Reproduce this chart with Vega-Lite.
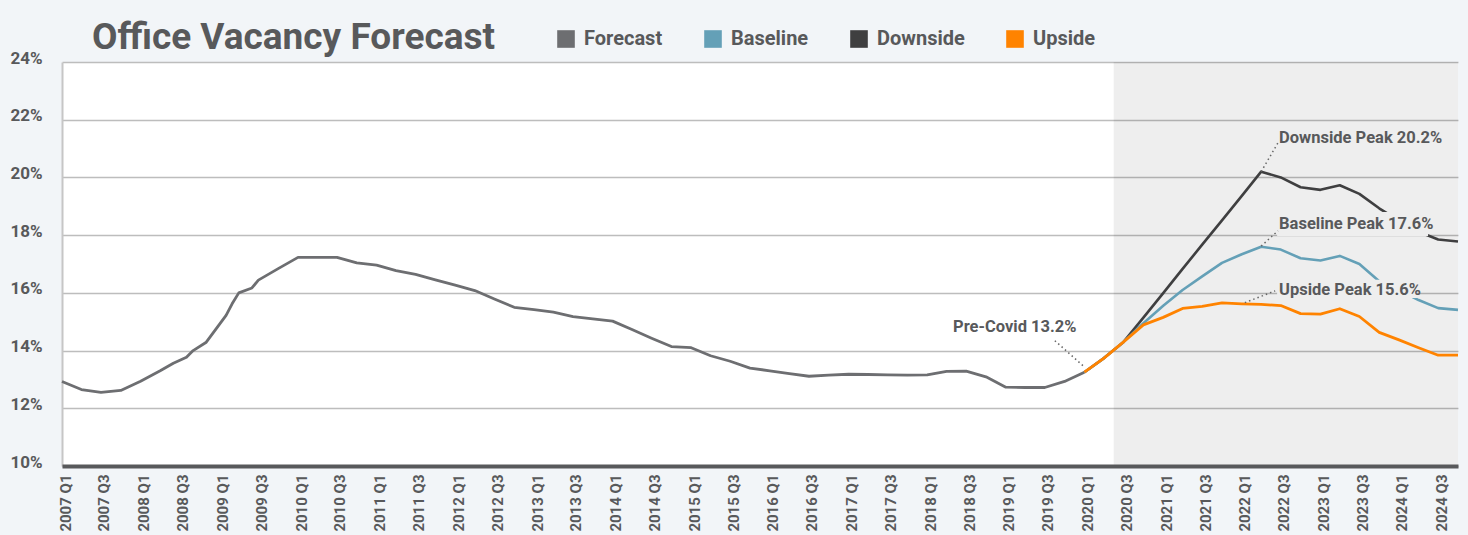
{
  "$schema": "https://vega.github.io/schema/vega-lite/v6.json",
  "autosize": {"type": "none"},
  "width": 1396,
  "height": 404,
  "padding": {"left": 62, "top": 62, "right": 10, "bottom": 69},
  "background": "#f2f5f8",
  "title": {
    "text": "Office Vacancy Forecast",
    "anchor": "start",
    "frame": "group",
    "dx": 30,
    "dy": 44,
    "offset": 16,
    "fontSize": 37,
    "fontWeight": "bold",
    "font": "Roboto, sans-serif",
    "color": "#58595b"
  },
  "config": {
    "font": "Roboto, sans-serif",
    "view": {"fill": "#ffffff", "stroke": null}
  },
  "datasets": {
    "series": [
      {"date": "2007-01-01", "series": "Forecast", "value": 12.93},
      {"date": "2007-04-01", "series": "Forecast", "value": 12.65},
      {"date": "2007-07-01", "series": "Forecast", "value": 12.55},
      {"date": "2007-10-01", "series": "Forecast", "value": 12.62},
      {"date": "2008-01-01", "series": "Forecast", "value": 12.94},
      {"date": "2008-04-01", "series": "Forecast", "value": 13.3},
      {"date": "2008-06-01", "series": "Forecast", "value": 13.56},
      {"date": "2008-08-01", "series": "Forecast", "value": 13.77},
      {"date": "2008-09-01", "series": "Forecast", "value": 14.0},
      {"date": "2008-11-01", "series": "Forecast", "value": 14.29},
      {"date": "2009-02-01", "series": "Forecast", "value": 15.22},
      {"date": "2009-03-01", "series": "Forecast", "value": 15.62},
      {"date": "2009-04-01", "series": "Forecast", "value": 16.0},
      {"date": "2009-06-01", "series": "Forecast", "value": 16.17},
      {"date": "2009-07-01", "series": "Forecast", "value": 16.44},
      {"date": "2009-10-01", "series": "Forecast", "value": 16.84},
      {"date": "2010-01-01", "series": "Forecast", "value": 17.23},
      {"date": "2010-04-01", "series": "Forecast", "value": 17.23},
      {"date": "2010-07-01", "series": "Forecast", "value": 17.23},
      {"date": "2010-10-01", "series": "Forecast", "value": 17.04},
      {"date": "2011-01-01", "series": "Forecast", "value": 16.96},
      {"date": "2011-04-01", "series": "Forecast", "value": 16.77},
      {"date": "2011-07-01", "series": "Forecast", "value": 16.64},
      {"date": "2011-10-01", "series": "Forecast", "value": 16.45},
      {"date": "2012-01-01", "series": "Forecast", "value": 16.27},
      {"date": "2012-04-01", "series": "Forecast", "value": 16.08},
      {"date": "2012-07-01", "series": "Forecast", "value": 15.79},
      {"date": "2012-10-01", "series": "Forecast", "value": 15.5},
      {"date": "2013-01-01", "series": "Forecast", "value": 15.42},
      {"date": "2013-04-01", "series": "Forecast", "value": 15.33},
      {"date": "2013-07-01", "series": "Forecast", "value": 15.18},
      {"date": "2013-10-01", "series": "Forecast", "value": 15.1},
      {"date": "2014-01-01", "series": "Forecast", "value": 15.02},
      {"date": "2014-04-01", "series": "Forecast", "value": 14.73},
      {"date": "2014-07-01", "series": "Forecast", "value": 14.43},
      {"date": "2014-10-01", "series": "Forecast", "value": 14.14},
      {"date": "2015-01-01", "series": "Forecast", "value": 14.1},
      {"date": "2015-04-01", "series": "Forecast", "value": 13.82},
      {"date": "2015-07-01", "series": "Forecast", "value": 13.63},
      {"date": "2015-10-01", "series": "Forecast", "value": 13.39},
      {"date": "2016-01-01", "series": "Forecast", "value": 13.3},
      {"date": "2016-04-01", "series": "Forecast", "value": 13.2},
      {"date": "2016-07-01", "series": "Forecast", "value": 13.11},
      {"date": "2016-10-01", "series": "Forecast", "value": 13.15},
      {"date": "2017-01-01", "series": "Forecast", "value": 13.18},
      {"date": "2017-04-01", "series": "Forecast", "value": 13.17},
      {"date": "2017-07-01", "series": "Forecast", "value": 13.16},
      {"date": "2017-10-01", "series": "Forecast", "value": 13.15},
      {"date": "2018-01-01", "series": "Forecast", "value": 13.16},
      {"date": "2018-04-01", "series": "Forecast", "value": 13.28},
      {"date": "2018-07-01", "series": "Forecast", "value": 13.29},
      {"date": "2018-10-01", "series": "Forecast", "value": 13.09},
      {"date": "2019-01-01", "series": "Forecast", "value": 12.73},
      {"date": "2019-04-01", "series": "Forecast", "value": 12.72},
      {"date": "2019-07-01", "series": "Forecast", "value": 12.72},
      {"date": "2019-10-01", "series": "Forecast", "value": 12.93},
      {"date": "2020-01-01", "series": "Forecast", "value": 13.25},

      {"date": "2020-01-01", "series": "Downside", "value": 13.25},
      {"date": "2020-04-01", "series": "Downside", "value": 13.74},
      {"date": "2020-07-01", "series": "Downside", "value": 14.3},
      {"date": "2020-10-01", "series": "Downside", "value": 15.14},
      {"date": "2021-01-01", "series": "Downside", "value": 15.99},
      {"date": "2021-04-01", "series": "Downside", "value": 16.83},
      {"date": "2021-07-01", "series": "Downside", "value": 17.67},
      {"date": "2021-10-01", "series": "Downside", "value": 18.51},
      {"date": "2022-01-01", "series": "Downside", "value": 19.36},
      {"date": "2022-04-01", "series": "Downside", "value": 20.2},
      {"date": "2022-07-01", "series": "Downside", "value": 20.0},
      {"date": "2022-10-01", "series": "Downside", "value": 19.66},
      {"date": "2023-01-01", "series": "Downside", "value": 19.57},
      {"date": "2023-04-01", "series": "Downside", "value": 19.73},
      {"date": "2023-07-01", "series": "Downside", "value": 19.43},
      {"date": "2023-10-01", "series": "Downside", "value": 18.93},
      {"date": "2024-01-01", "series": "Downside", "value": 18.5},
      {"date": "2024-04-01", "series": "Downside", "value": 18.12},
      {"date": "2024-07-01", "series": "Downside", "value": 17.85},
      {"date": "2024-10-01", "series": "Downside", "value": 17.78},

      {"date": "2020-01-01", "series": "Baseline", "value": 13.25},
      {"date": "2020-04-01", "series": "Baseline", "value": 13.74},
      {"date": "2020-07-01", "series": "Baseline", "value": 14.3},
      {"date": "2020-10-01", "series": "Baseline", "value": 14.95},
      {"date": "2021-01-01", "series": "Baseline", "value": 15.55},
      {"date": "2021-04-01", "series": "Baseline", "value": 16.1},
      {"date": "2021-07-01", "series": "Baseline", "value": 16.57},
      {"date": "2021-10-01", "series": "Baseline", "value": 17.04},
      {"date": "2022-01-01", "series": "Baseline", "value": 17.34},
      {"date": "2022-04-01", "series": "Baseline", "value": 17.6},
      {"date": "2022-07-01", "series": "Baseline", "value": 17.5},
      {"date": "2022-10-01", "series": "Baseline", "value": 17.2},
      {"date": "2023-01-01", "series": "Baseline", "value": 17.12},
      {"date": "2023-04-01", "series": "Baseline", "value": 17.28},
      {"date": "2023-07-01", "series": "Baseline", "value": 17.0},
      {"date": "2023-10-01", "series": "Baseline", "value": 16.4},
      {"date": "2024-01-01", "series": "Baseline", "value": 16.1},
      {"date": "2024-04-01", "series": "Baseline", "value": 15.75},
      {"date": "2024-07-01", "series": "Baseline", "value": 15.47},
      {"date": "2024-10-01", "series": "Baseline", "value": 15.41},

      {"date": "2020-01-01", "series": "Upside", "value": 13.25},
      {"date": "2020-04-01", "series": "Upside", "value": 13.74},
      {"date": "2020-07-01", "series": "Upside", "value": 14.3},
      {"date": "2020-10-01", "series": "Upside", "value": 14.89},
      {"date": "2021-01-01", "series": "Upside", "value": 15.15},
      {"date": "2021-04-01", "series": "Upside", "value": 15.46},
      {"date": "2021-07-01", "series": "Upside", "value": 15.53},
      {"date": "2021-10-01", "series": "Upside", "value": 15.65},
      {"date": "2022-01-01", "series": "Upside", "value": 15.62},
      {"date": "2022-04-01", "series": "Upside", "value": 15.6},
      {"date": "2022-07-01", "series": "Upside", "value": 15.56},
      {"date": "2022-10-01", "series": "Upside", "value": 15.28},
      {"date": "2023-01-01", "series": "Upside", "value": 15.26},
      {"date": "2023-04-01", "series": "Upside", "value": 15.45},
      {"date": "2023-07-01", "series": "Upside", "value": 15.18},
      {"date": "2023-10-01", "series": "Upside", "value": 14.63},
      {"date": "2024-01-01", "series": "Upside", "value": 14.37},
      {"date": "2024-04-01", "series": "Upside", "value": 14.1},
      {"date": "2024-07-01", "series": "Upside", "value": 13.84},
      {"date": "2024-10-01", "series": "Upside", "value": 13.84}
    ],
    "shade": [{"start": "2020-05-16", "end": "2024-10-01"}],
    "masks": [
      {"start": "2022-06-14", "end": "2024-05-15", "lo": 17.97, "hi": 18.8},
      {"start": "2022-06-14", "end": "2024-03-25", "lo": 15.82, "hi": 16.45}
    ],
    "leaders": [
      {"from": "2022-04-01", "to": "2022-06-18", "v1": 20.2, "v2": 21.2},
      {"from": "2022-04-01", "to": "2022-06-18", "v1": 17.62, "v2": 18.15},
      {"from": "2022-01-15", "to": "2022-06-05", "v1": 15.66, "v2": 16.07},
      {"from": "2019-12-25", "to": "2019-08-08", "v1": 13.48, "v2": 14.4}
    ],
    "labels": [
      {"date": "2022-06-23", "value": 21.37, "text": "Downside Peak 20.2%"},
      {"date": "2022-06-23", "value": 18.38, "text": "Baseline Peak 17.6%"},
      {"date": "2022-06-23", "value": 16.1, "text": "Upside Peak 15.6%"}
    ],
    "labelsRight": [
      {"date": "2019-11-25", "value": 14.82, "text": "Pre-Covid 13.2%"}
    ]
  },
  "layer": [
    {
      "data": {"name": "shade"},
      "mark": {"type": "rect", "fill": "#000000", "fillOpacity": 0.065},
      "encoding": {
        "x": {
          "field": "start", "type": "temporal",
          "scale": {"type": "utc", "domain": [{"year": 2007, "month": 1, "date": 1, "utc": true}, {"year": 2024, "month": 10, "date": 1, "utc": true}], "nice": false, "padding": 0},
          "axis": {
            "title": null,
            "format": "%Y Q%q",
            "tickCount": {"interval": "month", "step": 6},
            "labelAngle": -90,
            "labelFontSize": 15,
            "labelFontWeight": "bold",
            "labelColor": "#58595b",
            "labelPadding": 8,
            "labelOffset": 3,
            "labelOverlap": false,
            "labelFlush": false,
            "labelBound": false,
            "ticks": false,
            "grid": false,
            "domain": true,
            "domainColor": "#58595b",
            "domainWidth": 4,
            "zindex": 1
          }
        },
        "x2": {"field": "end"},
        "y": {"value": 0},
        "y2": {"value": 404}
      }
    },
    {
      "data": {"name": "series"},
      "transform": [{"filter": "datum.series === 'Forecast'"}],
      "mark": {"type": "line", "strokeWidth": 2.8, "strokeJoin": "round"},
      "encoding": {
        "x": {"field": "date", "type": "temporal"},
        "y": {
          "field": "value", "type": "quantitative",
          "scale": {"domain": [10, 24], "nice": false, "zero": false},
          "axis": {
            "title": null,
            "values": [10, 12, 14, 16, 18, 20, 22, 24],
            "labelExpr": "datum.value + '%'",
            "grid": true,
            "gridColor": "#bdbdbd",
            "gridWidth": 1.5,
            "domain": true,
            "domainColor": "#c6c6c6",
            "domainWidth": 2,
            "ticks": false,
            "labelPadding": 20,
            "labelFontSize": 17,
            "labelFontWeight": "bold",
            "labelColor": "#58595b",
            "labelOffset": -4
          }
        },
        "color": {
          "field": "series", "type": "nominal",
          "scale": {"domain": ["Forecast", "Baseline", "Downside", "Upside"], "range": ["#6d6e71", "#64a0b7", "#3f3f40", "#ff8300"]},
          "legend": {
            "orient": "none",
            "legendX": 494,
            "legendY": -33,
            "direction": "horizontal",
            "title": null,
            "symbolType": "square",
            "symbolSize": 310,
            "symbolStrokeWidth": 0,
            "labelFontSize": 20,
            "labelFontWeight": "bold",
            "labelColor": "#58595b",
            "labelOffset": 8,
            "columnPadding": 40,
            "encode": {"symbols": {"update": {"fill": {"scale": "color", "field": "value"}, "fillOpacity": {"value": 1}, "strokeWidth": {"value": 0}}}}
          }
        }
      }
    },
    {
      "data": {"name": "series"},
      "transform": [{"filter": "datum.series === 'Downside'"}],
      "mark": {"type": "line", "strokeWidth": 2.6, "strokeJoin": "round"},
      "encoding": {
        "x": {"field": "date", "type": "temporal"},
        "y": {"field": "value", "type": "quantitative"},
        "color": {"field": "series", "type": "nominal"}
      }
    },
    {
      "data": {"name": "series"},
      "transform": [{"filter": "datum.series === 'Baseline'"}],
      "mark": {"type": "line", "strokeWidth": 2.6, "strokeJoin": "round"},
      "encoding": {
        "x": {"field": "date", "type": "temporal"},
        "y": {"field": "value", "type": "quantitative"},
        "color": {"field": "series", "type": "nominal"}
      }
    },
    {
      "data": {"name": "series"},
      "transform": [{"filter": "datum.series === 'Upside'"}],
      "mark": {"type": "line", "strokeWidth": 2.8, "strokeJoin": "round"},
      "encoding": {
        "x": {"field": "date", "type": "temporal"},
        "y": {"field": "value", "type": "quantitative"},
        "color": {"field": "series", "type": "nominal"}
      }
    },
    {
      "data": {"name": "masks"},
      "mark": {"type": "rect", "fill": "#eeeeee"},
      "encoding": {
        "x": {"field": "start", "type": "temporal"},
        "x2": {"field": "end"},
        "y": {"field": "lo", "type": "quantitative"},
        "y2": {"field": "hi"}
      }
    },
    {
      "data": {"name": "leaders"},
      "mark": {"type": "rule", "stroke": "#666666", "strokeWidth": 1.5, "strokeDash": [1.5, 3]},
      "encoding": {
        "x": {"field": "from", "type": "temporal"},
        "x2": {"field": "to"},
        "y": {"field": "v1", "type": "quantitative"},
        "y2": {"field": "v2"}
      }
    },
    {
      "data": {"name": "labels"},
      "mark": {"type": "text", "align": "left", "baseline": "middle", "fontSize": 16.5, "fontWeight": "bold", "color": "#58595b"},
      "encoding": {
        "x": {"field": "date", "type": "temporal"},
        "y": {"field": "value", "type": "quantitative"},
        "text": {"field": "text"}
      }
    },
    {
      "data": {"name": "labelsRight"},
      "mark": {"type": "text", "align": "right", "baseline": "middle", "fontSize": 16.5, "fontWeight": "bold", "color": "#58595b"},
      "encoding": {
        "x": {"field": "date", "type": "temporal"},
        "y": {"field": "value", "type": "quantitative"},
        "text": {"field": "text"}
      }
    }
  ]
}
